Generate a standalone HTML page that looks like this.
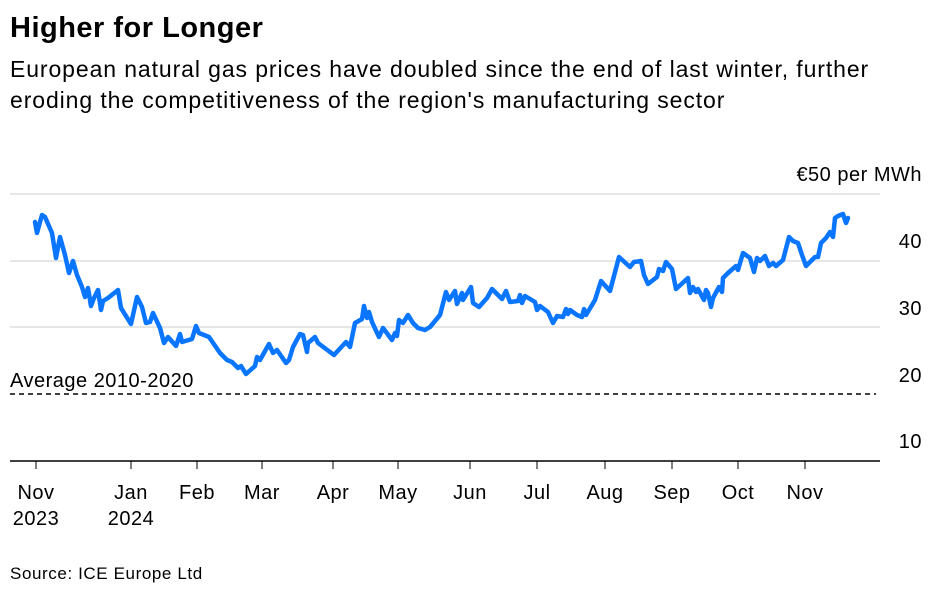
<!DOCTYPE html>
<html><head><meta charset="utf-8"><style>
body{margin:0;width:948px;height:597px;background:#fff;font-family:"Liberation Sans",Arial,sans-serif;color:#000;overflow:hidden;position:relative}
.t{position:absolute;left:10px;top:12px;font-size:29px;font-weight:bold;letter-spacing:0.5px}
.s{position:absolute;left:10px;top:54px;font-size:23px;line-height:31px;width:940px;white-space:nowrap;letter-spacing:0.9px}
.src{position:absolute;left:10px;top:564px;font-size:17px;letter-spacing:0.6px}
svg text{letter-spacing:0.5px}
</style></head><body>
<div class="t">Higher for Longer</div>
<div class="s">European natural gas prices have doubled since the end of last winter, further<br>eroding the competitiveness of the region's manufacturing sector</div>
<svg width="948" height="597" style="position:absolute;left:0;top:0">
<g stroke="#e6e6e6" stroke-width="2">
<line x1="10" x2="880" y1="194" y2="194"/><line x1="10" x2="880" y1="261" y2="261"/><line x1="10" x2="880" y1="327" y2="327"/>
</g>
<line x1="10" x2="876" y1="394" y2="394" stroke="#000" stroke-width="1.5" stroke-dasharray="5,4"/>
<line x1="10" x2="880" y1="461" y2="461" stroke="#000" stroke-width="1.5"/>
<g stroke="#000" stroke-width="1"><line x1="36" x2="36" y1="461" y2="469"/><line x1="131" x2="131" y1="461" y2="469"/><line x1="197" x2="197" y1="461" y2="469"/><line x1="262" x2="262" y1="461" y2="469"/><line x1="333" x2="333" y1="461" y2="469"/><line x1="398" x2="398" y1="461" y2="469"/><line x1="470" x2="470" y1="461" y2="469"/><line x1="537" x2="537" y1="461" y2="469"/><line x1="605" x2="605" y1="461" y2="469"/><line x1="672" x2="672" y1="461" y2="469"/><line x1="738" x2="738" y1="461" y2="469"/><line x1="805" x2="805" y1="461" y2="469"/></g>
<g font-size="20" text-anchor="end" fill="#000">
<text x="922" y="181">€50 per MWh</text><text x="922" y="248">40</text><text x="922" y="315">30</text><text x="922" y="382">20</text><text x="922" y="448">10</text>
</g>
<text x="10" y="387" font-size="20">Average 2010-2020</text>
<g font-size="20" text-anchor="middle">
<text x="36" y="499">Nov</text><text x="36" y="525">2023</text><text x="131" y="499">Jan</text><text x="131" y="525">2024</text>
<text x="197" y="499">Feb</text><text x="262" y="499">Mar</text><text x="333" y="499">Apr</text><text x="398" y="499">May</text><text x="470" y="499">Jun</text><text x="537" y="499">Jul</text><text x="605" y="499">Aug</text><text x="672" y="499">Sep</text><text x="738" y="499">Oct</text><text x="805" y="499">Nov</text>
</g>
<polyline fill="none" stroke="#0a75ff" stroke-width="4.5" stroke-linejoin="round" stroke-linecap="round" points="35,222 37,233 40,222 42,215 45,217 52,233 56,258 60,237 65,255 69,273 73,261 77,275 82,287 85,297 88,288 91,306 94,298 98,290 101,310 103,301 108,298 118,290 121,308 131,324 137,297 142,307 146,323 150,322 153,313 160,328 164,343 168,337 176,346 180,334 182,342 192,339 196,326 199,333 209,337 220,353 227,360 232,362 238,368 241,366 246,374 255,366 257,357 260,360 269,344 273,353 277,350 286,363 289,360 293,347 300,334 303,335 307,352 308,343 315,337 318,343 334,355 346,342 350,347 355,323 362,319 364,306 367,318 369,312 372,322 379,337 383,328 392,340 395,333 397,336 399,320 403,323 408,315 413,323 418,328 425,330 430,327 440,315 446,292 449,300 455,291 457,304 462,293 463,300 471,287 473,303 479,307 487,298 492,289 502,299 506,291 510,302 518,301 520,295 522,303 525,296 535,302 537,310 540,306 548,312 553,323 557,316 563,317 566,309 568,314 570,310 577,315 582,317 584,309 586,315 595,300 601,281 610,291 619,257 630,267 634,262 641,261 644,275 648,284 657,277 659,269 663,271 666,262 672,269 676,289 688,278 690,293 693,287 696,292 698,289 704,300 706,290 708,293 711,307 713,298 719,287 722,292 723,278 728,273 736,266 738,270 743,253 750,258 754,272 757,258 760,261 765,256 769,266 773,263 776,266 783,260 789,237 793,241 798,243 802,255 806,266 815,257 818,257 821,243 826,238 830,232 833,237 835,218 838,216 843,214 846,223 848,218"/>
</svg>
<div class="src">Source: ICE Europe Ltd</div>
</body></html>
